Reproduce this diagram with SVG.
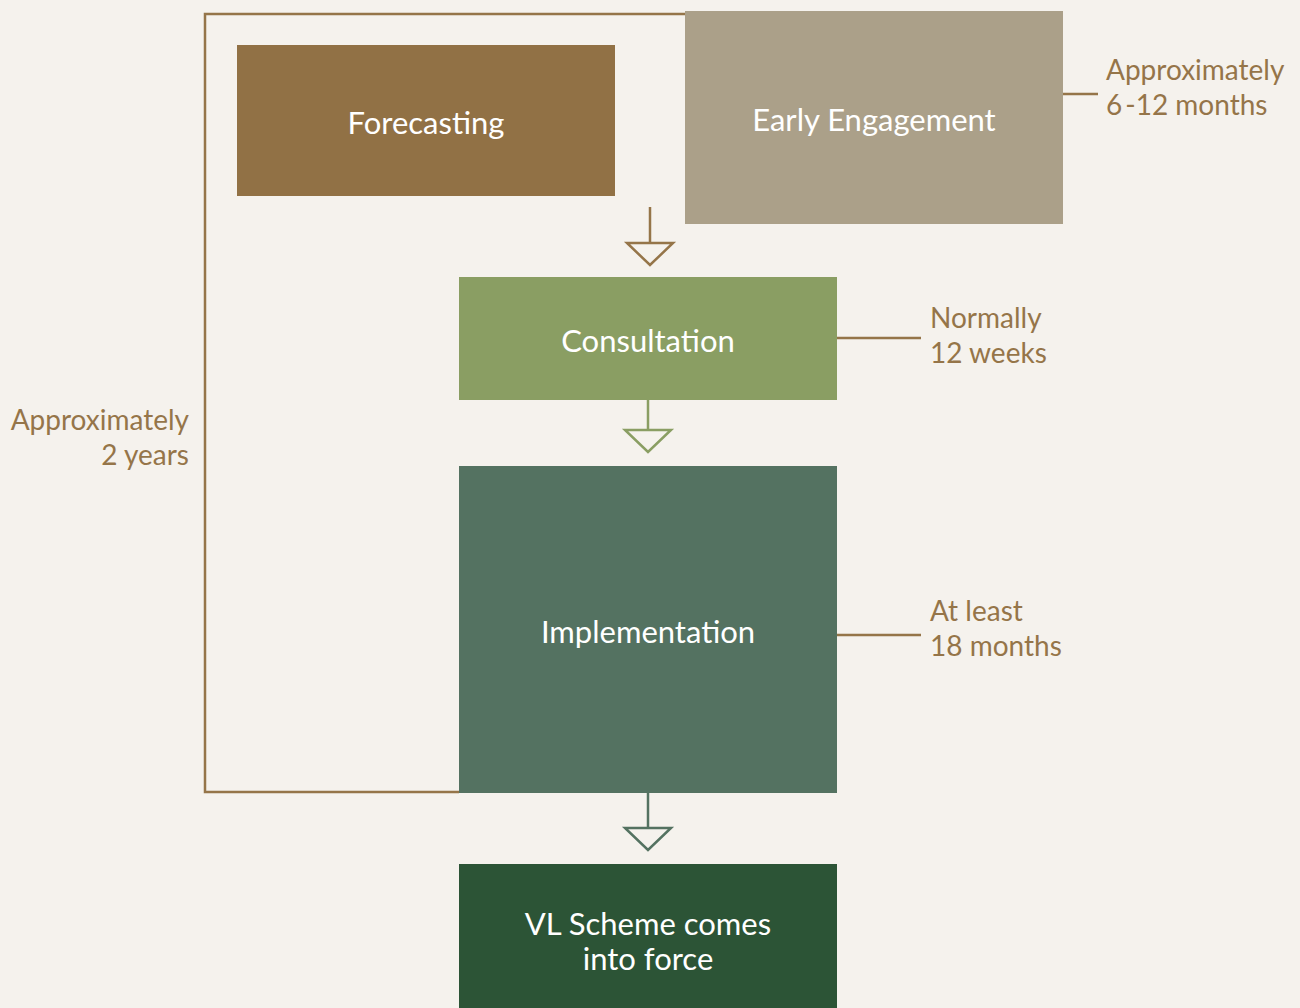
<svg xmlns="http://www.w3.org/2000/svg" width="1300" height="1008" viewBox="0 0 1300 1008">
<style>
.box{stroke:none}
.t{font-family:Lato,"Open Sans","Noto Sans",sans-serif;font-size:31px;fill:#ffffff;text-anchor:middle;dominant-baseline:central}
.lbl{font-family:Lato,"Open Sans","Noto Sans",sans-serif;font-size:28px;fill:#957549}
.ln{fill:none;stroke-width:2.5}
</style>
<rect width="1300" height="1008" fill="#f5f2ed"/>
<g id="connectors">
<polyline class="ln" stroke="#957549" points="685,14 205,14 205,792 459,792"/>
<line class="ln" stroke="#957549" x1="1063" y1="94" x2="1098" y2="94"/>
<line class="ln" stroke="#957549" x1="837" y1="338" x2="921" y2="338"/>
<line class="ln" stroke="#957549" x1="837" y1="635" x2="921" y2="635"/>
<line class="ln" stroke="#957549" x1="650" y1="207" x2="650" y2="243"/>
<polygon class="ln" stroke="#957549" points="627,243 673,243 650,265"/>
<line class="ln" stroke="#8a9e63" x1="648" y1="400" x2="648" y2="430"/>
<polygon class="ln" stroke="#8a9e63" points="625,430 671,430 648,452"/>
<line class="ln" stroke="#547261" x1="648" y1="793" x2="648" y2="828"/>
<polygon class="ln" stroke="#547261" points="625,828 671,828 648,850"/>
</g>
<g id="forecasting">
<rect class="box" x="237" y="45" width="378" height="151" fill="#917145"/>
<text class="t" x="426" y="122">Forecasting</text>
</g>
<g id="early-engagement">
<rect class="box" x="685" y="11" width="378" height="213" fill="#aba089"/>
<text class="t" x="874" y="119">Early Engagement</text>
</g>
<g id="consultation">
<rect class="box" x="459" y="277" width="378" height="123" fill="#8a9e63"/>
<text class="t" x="648" y="340">Consultation</text>
</g>
<g id="implementation">
<rect class="box" x="459" y="466" width="378" height="327" fill="#547261"/>
<text class="t" x="648" y="631">Implementation</text>
</g>
<g id="vl-scheme">
<rect class="box" x="459" y="864" width="378" height="144" fill="#2c5436"/>
<text class="t" x="648" y="923">VL Scheme comes</text>
<text class="t" x="648" y="958">into force</text>
</g>
<g id="labels">
<text class="lbl" x="1106" y="80">Approximately</text>
<text class="lbl" x="1106" y="115">6<tspan dx="3">-12 months</tspan></text>
<text class="lbl" x="189" y="430" text-anchor="end">Approximately</text>
<text class="lbl" x="189" y="465" text-anchor="end">2 years</text>
<text class="lbl" x="930" y="328">Normally</text>
<text class="lbl" x="930" y="363">12 weeks</text>
<text class="lbl" x="930" y="621">At least</text>
<text class="lbl" x="930" y="656">18 months</text>
</g>
</svg>
